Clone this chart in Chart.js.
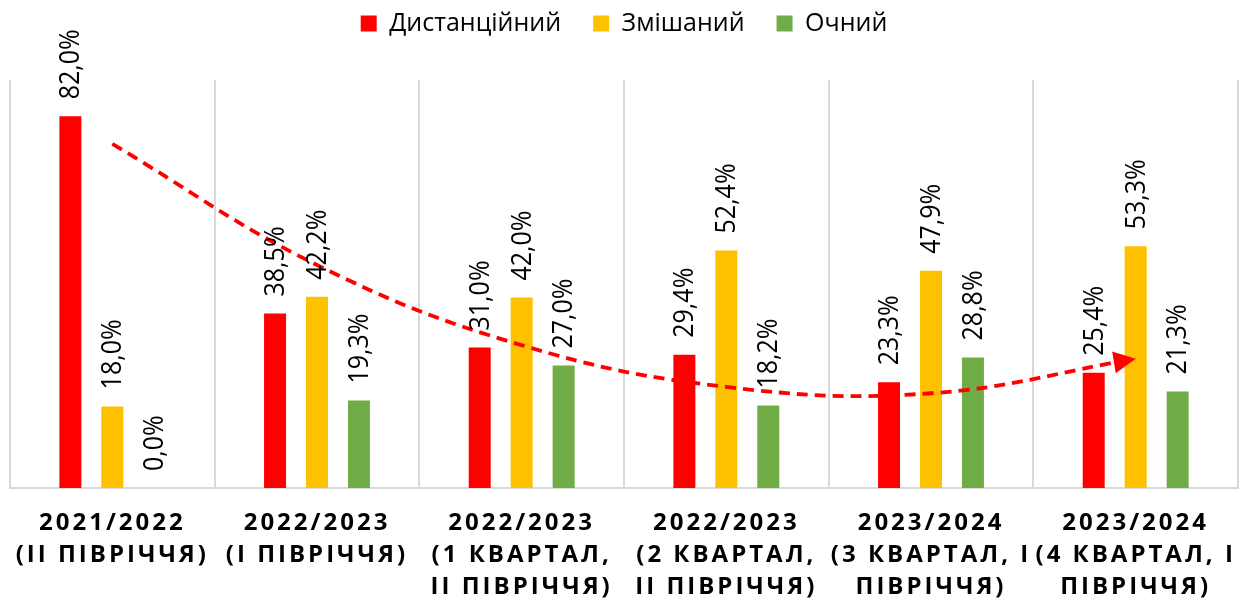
<!DOCTYPE html>
<html>
<head>
<meta charset="utf-8">
<script src="https://cdn.jsdelivr.net/npm/chart.js@4/dist/chart.umd.min.js"></script>
<style>
  html, body { margin:0; padding:0; background:#fff; }
  #wrap { width:1240px; height:601px; position:relative; }
</style>
</head>
<body>
<div id="wrap"><canvas id="chart"></canvas></div>
<script>
const categories = [
  ['2021/2022', '(ІІ ПІВРІЧЧЯ)'],
  ['2022/2023', '(І ПІВРІЧЧЯ)'],
  ['2022/2023', '(1 КВАРТАЛ,', 'ІІ ПІВРІЧЧЯ)'],
  ['2022/2023', '(2 КВАРТАЛ,', 'ІІ ПІВРІЧЧЯ)'],
  ['2023/2024', '(3 КВАРТАЛ, І', 'ПІВРІЧЧЯ)'],
  ['2023/2024', '(4 КВАРТАЛ, І', 'ПІВРІЧЧЯ)']
];
const seriesNames = ['Дистанційний', 'Змішаний', 'Очний'];
const remote = [82.0, 38.5, 31.0, 29.4, 23.3, 25.4];
const mixed  = [18.0, 42.2, 42.0, 52.4, 47.9, 53.3];
const inPerson = [0.0, 19.3, 27.0, 18.2, 28.8, 21.3];
// hand-drawn dashed trend arrow
const trend = [75.9, 49.2, 31.5, 22.3, 20.9, 28.5];

const colors = ['#FF0000', '#FFC000', '#70AD47'];

function pct(v){ return v.toFixed(1).replace('.', ',') + '%'; }

const chartPlugin = {
  id: 'extras',
  beforeInit(chart){
    const fit = chart.legend.fit;
    chart.legend.fit = function(){
      fit.call(this);
      this.height = 101;
    };
  },
  afterDatasetsDraw(chart){
    const ctx = chart.ctx;
    // value labels, rotated
    ctx.save();
    ctx.fillStyle = '#000';
    ctx.font = '25px "Open Sans"';
    ctx.textAlign = 'left';
    ctx.textBaseline = 'middle';
    for(let d=0; d<3; d++){
      const meta = chart.getDatasetMeta(d);
      meta.data.forEach((bar, i) => {
        const v = chart.data.datasets[d].data[i];
        ctx.save();
        ctx.translate(bar.x + 1, bar.y - 17);
        ctx.rotate(-Math.PI/2);
        ctx.scale(1, 1.1);
        ctx.fillText(pct(v), 0, 0);
        ctx.restore();
      });
    }
    ctx.restore();

    // arrow head on the trend line
    const tm = chart.getDatasetMeta(3);
    const pts = tm.data;
    const p = pts[pts.length-1];
    let dx = p.x - (p.cp1x ?? pts[pts.length-2].x);
    let dy = p.y - (p.cp1y ?? pts[pts.length-2].y);
    const len = Math.hypot(dx, dy) || 1;
    dx /= len; dy /= len;
    const L = 22, W = 11;
    const bx = p.x - dx*L, by = p.y - dy*L;
    ctx.save();
    ctx.fillStyle = '#FF0000';
    ctx.beginPath();
    ctx.moveTo(p.x, p.y);
    ctx.lineTo(bx - dy*W, by + dx*W);
    ctx.lineTo(bx + dy*W, by - dx*W);
    ctx.closePath();
    ctx.fill();
    ctx.restore();

    // spaced-out category labels are drawn next (ticks z = 1)
    ctx.letterSpacing = '3px';
  },
  afterDraw(chart){
    chart.ctx.letterSpacing = '0px';
  }
};

const barData = [remote, mixed, inPerson];

new Chart(document.getElementById('chart'), {
  type: 'bar',
  data: {
    labels: categories,
    datasets: [
      ...barData.map((d, i) => ({
        label: seriesNames[i],
        data: d,
        backgroundColor: colors[i],
        categoryPercentage: 0.615,
        barPercentage: 0.524,
        order: 1
      })),
      {
        type: 'line',
        label: 'trend',
        data: trend,
        borderColor: '#FF0000',
        borderWidth: 3.8,
        borderDash: [11, 7],
        pointRadius: 0,
        tension: 0.4,
        fill: false,
        order: 0
      }
    ]
  },
  options: {
    responsive: true,
    maintainAspectRatio: false,
    animation: false,
    events: [],
    layout: { padding: { top: -21, left: 10, right: 2, bottom: 0 } },
    plugins: {
      tooltip: { enabled: false },
      legend: {
        position: 'top',
        labels: {
          filter: item => item.datasetIndex < 3,
          boxWidth: 16,
          boxHeight: 16,
          padding: 32,
          color: '#000',
          font: { family: '"Open Sans"', size: 25 }
        }
      }
    },
    scales: {
      x: {
        afterFit(scale){ scale.height = 113; },
        grid: { color: '#D9D9D9', lineWidth: 2, drawTicks: false, offset: true },
        border: { color: '#D9D9D9', width: 2 },
        ticks: {
          z: 1,
          autoSkip: false,
          maxRotation: 0,
          minRotation: 0,
          padding: 19,
          color: '#000',
          font: { family: '"Open Sans"', size: 24, weight: 'bold', lineHeight: 32/24 }
        }
      },
      y: {
        display: false,
        min: 0,
        max: 90
      }
    }
  },
  plugins: [chartPlugin]
});
</script>
</body>
</html>
